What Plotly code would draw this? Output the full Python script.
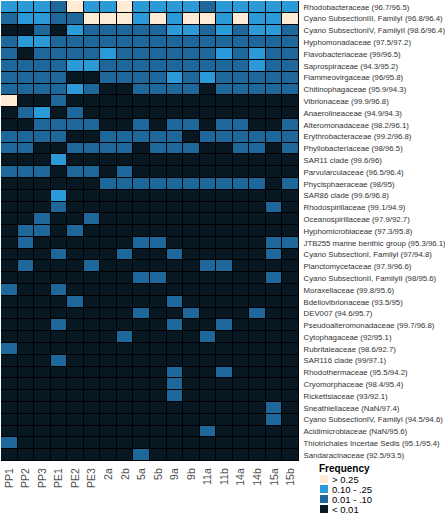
import plotly.graph_objects as go

# ---- data ----
samples = ["PP1", "PP2", "PP3", "PE1", "PE2", "PE3", "2a", "2b", "5a", "5b",
           "9a", "9b", "11a", "11b", "14a", "14b", "15a", "15b"]

families = [
    "Rhodobacteraceae (96.7/96.5)",
    "Cyano SubsectionIII, FamilyI (96.8/96.4)",
    "Cyano SubsectionIV, FamilyII (98.6/96.4)",
    "Hyphomonadaceae (97.5/97.2)",
    "Flavobacteriaceae (99/96.5)",
    "Saprospiraceae (94.3/95.2)",
    "Flammeovirgaceae (96/95.8)",
    "Chitinophagaceae (95.9/94.3)",
    "Vibrionaceae (99.9/96.8)",
    "Anaerolineaceae (94.9/94.3)",
    "Alteromonadaceae (98.2/96.1)",
    "Erythrobacteraceae (99.2/96.8)",
    "Phyllobacteriaceae (98/96.5)",
    "SAR11 clade (99.6/96)",
    "Parvularculaceae (96.5/96.4)",
    "Phycisphaeraceae (98/95)",
    "SAR86 clade (99.6/96.8)",
    "Rhodospirillaceae (99.1/94.9)",
    "Oceanospirillaceae (97.9/92.7)",
    "Hyphomicrobiaceae (97.3/95.8)",
    "JTB255 marine benthic group (95.3/96.1)",
    "Cyano SubsectionI, FamilyI (97/94.8)",
    "Planctomycetaceae (97.9/96.6)",
    "Cyano SubsectionII, FamilyII (98/95.6)",
    "Moraxellaceae (99.8/95.6)",
    "Bdellovibrionaceae (93.5/95)",
    "DEV007 (94.6/95.7)",
    "Pseudoalteromonadaceae (99.7/96.8)",
    "Cytophagaceae (92/95.1)",
    "Rubritaleaceae (98.6/92.7)",
    "SAR116 clade (99/97.1)",
    "Rhodothermaceae (95.5/94.2)",
    "Cryomorphaceae (98.4/95.4)",
    "Rickettsiaceae (93/92.1)",
    "Sneathiellaceae (NaN/97.4)",
    "Cyano SubsectionIV, FamilyI (94.5/94.6)",
    "Acidimicrobiaceae (NaN/95.6)",
    "Thiotrichales Incertae Sedis (95.1/95.4)",
    "Sandaracinaceae (92.5/93.5)",
]

# frequency class per sample: 0 = < 0.01, 1 = 0.01 - .10, 2 = 0.10 - .25, 3 = > 0.25
rhodobacteraceae   = [2,2,2,1,3,2,2,3,2, 2,2,2,1,2,2,2,2,2]
cyano_III_I        = [1,2,2,1,1,3,3,3,2, 3,2,3,3,2,3,2,2,3]
cyano_IV_II        = [0,0,1,0,2,1,1,1,1, 1,2,2,1,2,1,2,2,1]
hyphomonadaceae    = [1,2,2,1,1,1,1,1,1, 1,1,1,1,1,1,1,1,1]
flavobacteriaceae  = [1,0,1,1,1,1,2,1,1, 1,1,1,1,2,1,2,1,1]
saprospiraceae     = [1,1,1,1,2,2,1,1,1, 1,1,1,1,1,1,2,1,1]
flammeovirgaceae   = [1,1,1,1,0,0,1,1,1, 1,2,1,2,1,1,1,1,1]
chitinophagaceae   = [1,1,1,1,2,1,0,0,1, 1,1,1,0,1,1,1,1,1]
vibrionaceae       = [3,0,0,1,0,0,0,0,0, 0,0,0,0,0,0,0,0,0]
anaerolineaceae    = [0,1,2,0,1,0,0,0,0, 0,0,0,0,0,0,0,0,0]
alteromonadaceae   = [0,0,1,1,1,1,0,0,1, 0,1,1,0,1,1,0,0,1]
erythrobacteraceae = [1,1,1,1,0,0,1,1,1, 1,1,0,1,1,1,1,1,1]
phyllobacteriaceae = [1,1,0,0,1,1,1,1,0, 1,1,1,0,0,1,1,0,1]
sar11              = [0,0,0,2,0,0,0,0,0, 0,0,0,0,0,0,0,0,0]
parvularculaceae   = [1,1,1,0,1,1,0,1,0, 0,0,0,0,0,0,0,0,0]
phycisphaeraceae   = [0,0,0,0,0,0,1,1,1, 1,1,1,1,1,1,1,0,1]
sar86              = [0,0,0,2,0,0,0,0,0, 0,0,0,0,0,0,0,0,0]
rhodospirillaceae  = [0,0,0,1,0,0,0,0,0, 0,0,0,0,0,0,0,1,0]
oceanospirillaceae = [0,0,1,0,0,1,0,0,0, 0,0,0,0,0,0,0,0,0]
hyphomicrobiaceae  = [0,1,1,0,1,0,0,0,0, 0,0,0,0,0,0,0,0,0]
jtb255             = [0,1,0,0,0,0,0,0,1, 1,0,0,0,0,0,0,1,1]
cyano_I_I          = [0,0,0,1,0,0,0,1,0, 0,1,0,0,0,0,0,1,0]
planctomycetaceae  = [0,1,0,0,0,1,0,0,0, 0,0,0,1,1,0,0,0,0]
cyano_II_II        = [0,0,0,0,0,0,0,0,1, 1,0,0,0,0,0,0,1,0]
moraxellaceae      = [1,0,0,1,0,0,0,0,0, 0,0,0,0,0,0,0,0,0]
bdellovibrionaceae = [0,0,0,0,1,0,0,0,0, 0,1,0,0,0,0,0,0,0]
dev007             = [0,0,0,0,0,0,0,0,1, 0,0,1,0,0,0,1,0,0]
pseudoalteromonad  = [0,0,0,1,0,0,0,0,0, 0,1,0,0,1,0,0,0,0]
cytophagaceae      = [0,0,0,0,0,0,0,1,0, 0,0,0,1,0,0,0,0,0]
rubritaleaceae     = [1,0,0,0,0,0,0,0,0, 0,0,0,0,0,0,0,0,0]
sar116             = [0,0,0,1,0,0,0,0,0, 0,0,0,0,0,0,0,0,0]
rhodothermaceae    = [0,0,0,0,0,0,0,0,0, 0,1,0,0,1,0,0,0,0]
cryomorphaceae     = [0,0,0,0,0,0,0,0,0, 0,1,0,0,0,0,0,0,0]
rickettsiaceae     = [0,0,0,0,0,0,0,0,0, 0,1,0,0,0,0,0,0,0]
sneathiellaceae    = [0,0,0,0,0,0,0,0,0, 0,0,0,0,0,0,0,1,0]
cyano_IV_I         = [0,0,0,0,0,0,0,0,0, 0,0,0,0,0,0,0,1,0]
acidimicrobiaceae  = [0,0,0,0,0,0,0,0,0, 0,0,0,1,0,0,0,0,0]
thiotrichales      = [1,0,0,0,0,0,0,0,0, 0,0,0,0,0,0,0,0,0]
sandaracinaceae    = [0,0,0,0,0,0,0,0,1, 0,0,0,0,0,0,0,0,0]

class_labels = ["> 0.25", "0.10 - .25", "0.01 - .10", "< 0.01"]
class_codes = [3, 2, 1, 0]
class_colors = ["#071822", "#1D679B", "#2A9AD8", "#FDEBD5"]  # index by code

z = [rhodobacteraceae, cyano_III_I, cyano_IV_II, hyphomonadaceae, flavobacteriaceae,
     saprospiraceae, flammeovirgaceae, chitinophagaceae, vibrionaceae, anaerolineaceae,
     alteromonadaceae, erythrobacteraceae, phyllobacteriaceae, sar11, parvularculaceae,
     phycisphaeraceae, sar86, rhodospirillaceae, oceanospirillaceae, hyphomicrobiaceae,
     jtb255, cyano_I_I, planctomycetaceae, cyano_II_II, moraxellaceae,
     bdellovibrionaceae, dev007, pseudoalteromonad, cytophagaceae, rubritaleaceae,
     sar116, rhodothermaceae, cryomorphaceae, rickettsiaceae, sneathiellaceae,
     cyano_IV_I, acidimicrobiaceae, thiotrichales, sandaracinaceae]

# ---- figure ----
W, H = 445, 514
ML, MR, MT, MB = 1, 146, 1, 53
FONT = "Liberation Sans, Arial, sans-serif"

colorscale = []
n = len(class_colors)
for i, c in enumerate(class_colors):
    colorscale.append([i / n, c])
    colorscale.append([(i + 1) / n, c])

fig = go.Figure(go.Heatmap(
    z=z,
    x=list(range(len(samples))),
    y=list(range(len(families))),
    zmin=-0.5, zmax=3.5,
    colorscale=colorscale,
    showscale=False,
    xgap=1, ygap=1,
    hoverinfo="skip",
))

fig.update_layout(
    width=W, height=H,
    margin=dict(l=ML, r=MR, t=MT, b=MB, pad=0),
    paper_bgcolor="white",
    plot_bgcolor="#000000",
    font=dict(family=FONT, color="#333333"),
    showlegend=False,
    xaxis=dict(
        tickmode="array", tickvals=list(range(len(samples))), ticktext=samples,
        tickangle=-90, tickfont=dict(size=10.5, color="#4D4D4D"),
        range=[-0.5, len(samples) - 0.5], showgrid=False, zeroline=False,
        ticks="outside", ticklen=2, tickcolor="white", fixedrange=True,
        automargin=False,
    ),
    yaxis=dict(
        tickmode="array", tickvals=list(range(len(families))), ticktext=families,
        side="right", tickfont=dict(size=7.8, color="#333333"),
        range=[len(families) - 0.5, -0.5], showgrid=False, zeroline=False,
        ticks="outside", ticklen=2, tickcolor="white", fixedrange=True,
        automargin=False,
    ),
)

# ---- manual legend (ggplot-style compact) ----
plot_w = W - ML - MR
plot_h = H - MT - MB

def px_x(px):
    return (px - ML) / plot_w

def px_y(py):
    return (H - MB - py) / plot_h

fig.add_annotation(x=px_x(317), y=px_y(468), xref="paper", yref="paper",
                   text="<b>Frequency</b>", showarrow=False, xanchor="left",
                   yanchor="middle", font=dict(size=10, color="#000000"))
for k, (lab, code) in enumerate(zip(class_labels, class_codes)):
    cy = 479 + 10 * k
    fig.add_shape(type="rect", xref="paper", yref="paper",
                  x0=px_x(320), x1=px_x(328), y0=px_y(cy + 4), y1=px_y(cy - 4),
                  fillcolor=class_colors[code], line=dict(width=0))
    fig.add_annotation(x=px_x(330), y=px_y(cy), xref="paper", yref="paper",
                       text=lab, showarrow=False, xanchor="left", yanchor="middle",
                       font=dict(size=9.5, color="#000000"))

fig.write_html("out.html", config={"displayModeBar": False},
               post_script="document.body.style.margin='0px';")
